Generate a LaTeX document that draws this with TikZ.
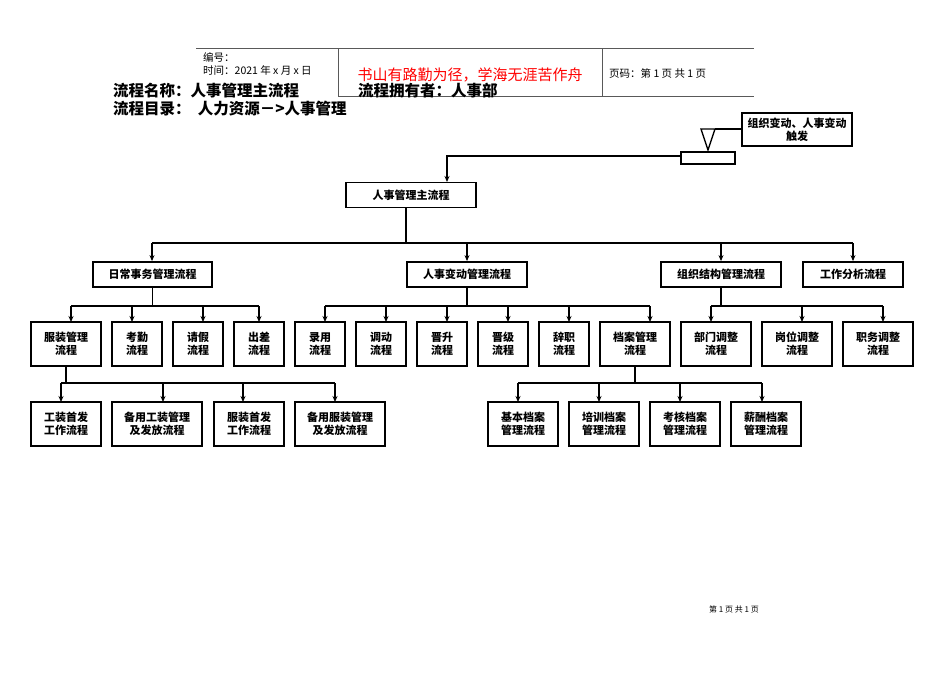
\documentclass[tikz,border=0pt]{standalone}
\usepackage{fontspec}
\setmainfont{Liberation Sans}
\newfontfamily\cjk{Noto Sans CJK SC}
\usetikzlibrary{arrows.meta}
\begin{document}
\begin{tikzpicture}[x=1pt,y=-1pt,
  bx/.style={draw,line width=1.8pt,minimum width=#1pt,minimum height=44pt,inner sep=0pt,align=center,font=\cjk\bfseries\fontsize{11}{13}\selectfont},
  bx/.default=50,
  hb/.style={draw,line width=1.8pt,minimum width=#1pt,minimum height=25pt,inner sep=0pt,align=center,font=\cjk\bfseries\fontsize{11}{13}\selectfont},
  ln/.style={line width=1.8pt},
  ar/.style={line width=1.8pt,-{Stealth[length=6pt,width=5pt]}}]
\useasboundingbox (0,0) rectangle (950,672);
% header
\draw[line width=0.6pt,gray!70!black] (196,48)--(754,48) (338,96)--(754,96) (338,48)--(338,96) (602,48)--(602,96);
\node[anchor=west,font=\cjk\fontsize{10.5}{12}\selectfont,inner sep=0pt] (h1) at (203,57) {编号：};
\node[anchor=west,font=\cjk\fontsize{10.5}{12}\selectfont,inner sep=0pt] (h2) at (203,70) {时间：2021 年 x 月 x 日};
\node[font=\cjk\fontsize{15}{17}\selectfont,text=red,inner sep=0pt] (h3) at (470,75) {书山有路勤为径，学海无涯苦作舟};
\node[anchor=west,font=\cjk\fontsize{10.5}{12}\selectfont,inner sep=0pt] (h4) at (609,73) {页码：第 1 页 共 1 页};
\node[anchor=west,font=\cjk\bfseries\fontsize{15.5}{17}\selectfont,inner sep=0pt] (t1) at (113,91) {流程名称：人事管理主流程};
\node[anchor=west,font=\cjk\bfseries\fontsize{15.5}{17}\selectfont,inner sep=0pt] (t2) at (358,91) {流程拥有者：人事部};
\node[anchor=west,font=\cjk\bfseries\fontsize{15.5}{17}\selectfont,inner sep=0pt] (t3) at (113,109) {流程目录：\ \ 人力资源－>人事管理};
% trigger
\node[draw,line width=1.4pt,minimum width=110pt,minimum height=33pt,inner sep=0pt,align=center,font=\cjk\bfseries\fontsize{11}{13}\selectfont] (trig) at (797,129.5) {组织变动、人事变动\\触发};
\draw[line width=1.4pt] (701,129)--(715,129)--(708,150)--cycle;
\draw[line width=1.4pt] (715,129)--(trig.west|-0,129);
\node[draw,line width=1.4pt,minimum width=54pt,minimum height=12pt,inner sep=0pt] (sr) at (708,158) {};
\coordinate (c1) at (447,156);
\node[hb=130] (main) at (411,195) {人事管理主流程};
\draw[ar] (sr.west|-0,156)--(c1)--(447,182);
% level 2
\node[hb=119] (a) at (152.5,274.5) {日常事务管理流程};
\node[hb=120] (b) at (467,274.5) {人事变动管理流程};
\node[hb=120] (c) at (721,274.5) {组织结构管理流程};
\node[hb=100] (d) at (853,274.5) {工作分析流程};
\draw[ln] (406,208)--(406,243) (152,243)--(853,243);
\foreach \x/\n in {152/a,467/b,721/c,853/d} \draw[ar] (\x,243)--(\n.north-|\x,0);
% level 3
\node[bx=70] (a1) at (66,344) {服装管理\\流程};
\node[bx] (a2) at (137,344) {考勤\\流程};
\node[bx] (a3) at (198,344) {请假\\流程};
\node[bx] (a4) at (259,344) {出差\\流程};
\node[bx] (b1) at (320,344) {录用\\流程};
\node[bx] (b2) at (381,344) {调动\\流程};
\node[bx] (b3) at (442,344) {晋升\\流程};
\node[bx] (b4) at (503,344) {晋级\\流程};
\node[bx] (b5) at (564,344) {辞职\\流程};
\node[bx=70] (b6) at (635,344) {档案管理\\流程};
\node[bx=70] (c1b) at (716,344) {部门调整\\流程};
\node[bx=70] (c2) at (797,344) {岗位调整\\流程};
\node[bx=70] (c3) at (878,344) {职务调整\\流程};
\draw[ln] (a.south)--(152.5,306) (71,306)--(259,306);
\foreach \x/\n in {71/a1,132/a2,203/a3,259/a4} \draw[ar] (\x,306)--(\x,322);
\draw[ln] (b.south)--(467,306) (325,306)--(650,306);
\foreach \x in {325,386,447,508,569,650} \draw[ar] (\x,306)--(\x,322);
\draw[ln] (c.south)--(721,306) (711,306)--(883,306);
\foreach \x in {711,802,883} \draw[ar] (\x,306)--(\x,322);
% level 4
\node[bx=70] (e1) at (66,424) {工装首发\\工作流程};
\node[bx=90] (e2) at (157,424) {备用工装管理\\及发放流程};
\node[bx=70] (e3) at (249,424) {服装首发\\工作流程};
\node[bx=90] (e4) at (340,424) {备用服装管理\\及发放流程};
\draw[ln] (a1.south)--(66,383) (61,383)--(335,383);
\foreach \x in {61,163,243,335} \draw[ar] (\x,383)--(\x,402);
\node[bx=70] (f1) at (523,424) {基本档案\\管理流程};
\node[bx=70] (f2) at (604,424) {培训档案\\管理流程};
\node[bx=70] (f3) at (685,424) {考核档案\\管理流程};
\node[bx=70] (f4) at (766,424) {薪酬档案\\管理流程};
\draw[ln] (b6.south)--(635,383) (518,383)--(762,383);
\foreach \x in {518,599,680,762} \draw[ar] (\x,383)--(\x,402);
\node[font=\cjk\fontsize{8}{10}\selectfont] (foot) at (734,609) {第 1 页 共 1 页};
\end{tikzpicture}
\end{document}
